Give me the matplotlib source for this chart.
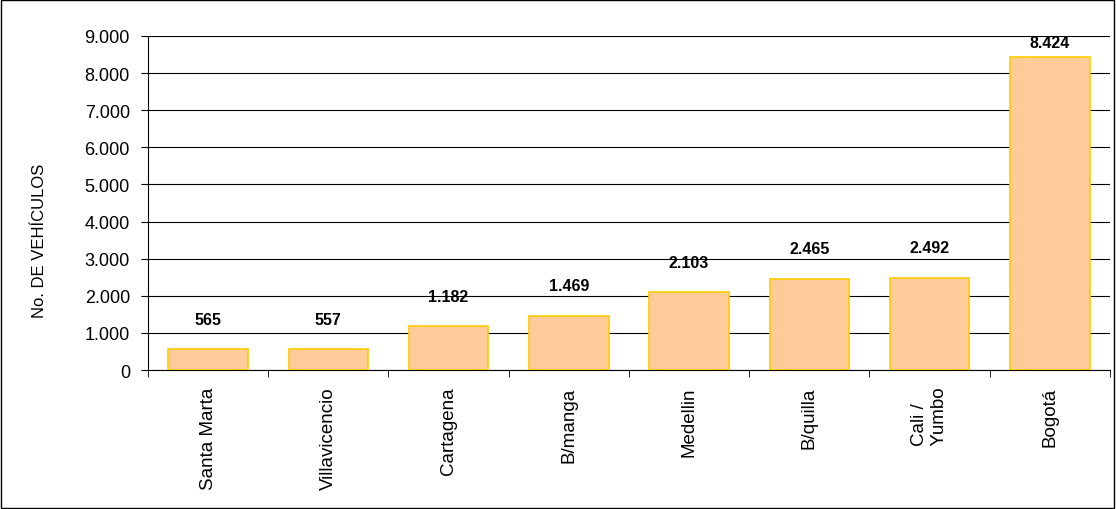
import matplotlib.pyplot as plt
from matplotlib.ticker import FuncFormatter, MultipleLocator

ciudades = ['Santa Marta', 'Villavicencio', 'Cartagena', 'B/manga', 'Medellin',
            'B/quilla', 'Cali /\n   Yumbo', 'Bogotá']
vehiculos = [565, 557, 1182, 1469, 2103, 2465, 2492, 8424]

plt.rcParams['font.family'] = ['Liberation Sans', 'DejaVu Sans']

fig = plt.figure(figsize=(11.16, 5.1), dpi=100)
ax = fig.add_axes([0.1326, 0.2725, 0.862, 0.655])
fig.patches.append(plt.Rectangle((0.001, 0.001), 0.997, 0.997, transform=fig.transFigure,
                                 fill=False, edgecolor='black', linewidth=1))

x = range(len(ciudades))
ax.bar(x, vehiculos, width=0.66, color='#FFCC99', edgecolor='#FFCC00', linewidth=1.2, zorder=3)

fmt = lambda v: f'{v:,.0f}'.replace(',', '.')
for i, v in enumerate(vehiculos):
    ax.text(i, v + 200 if v > 8000 else v + 600, fmt(v), ha='center', va='bottom',
            fontsize=11.5, fontweight='bold')

ax.set_ylim(0, 9000)
ax.set_xlim(-0.5, len(ciudades) - 0.5)
ax.yaxis.set_major_locator(MultipleLocator(1000))
ax.yaxis.set_major_formatter(FuncFormatter(lambda v, p: fmt(v)))
ax.grid(axis='y', color='black', linewidth=0.8, zorder=0)
for s in ['top', 'right']:
    ax.spines[s].set_visible(False)
ax.set_xticks([i + 0.5 for i in range(-1, len(ciudades))], minor=True)
ax.tick_params(axis='x', which='minor', length=5)
ax.tick_params(axis='x', which='major', length=0, pad=12)
ax.tick_params(axis='y', labelsize=13, length=5, pad=8)
ax.set_xticks(list(x))
ax.set_xticklabels(ciudades, rotation=90, fontsize=13.5, va='top')
ax.set_ylabel('No. DE VEHÍCULOS', fontsize=12)
ax.yaxis.set_label_coords(-0.105, 0.39)

fig.savefig('out.png', dpi=100)
